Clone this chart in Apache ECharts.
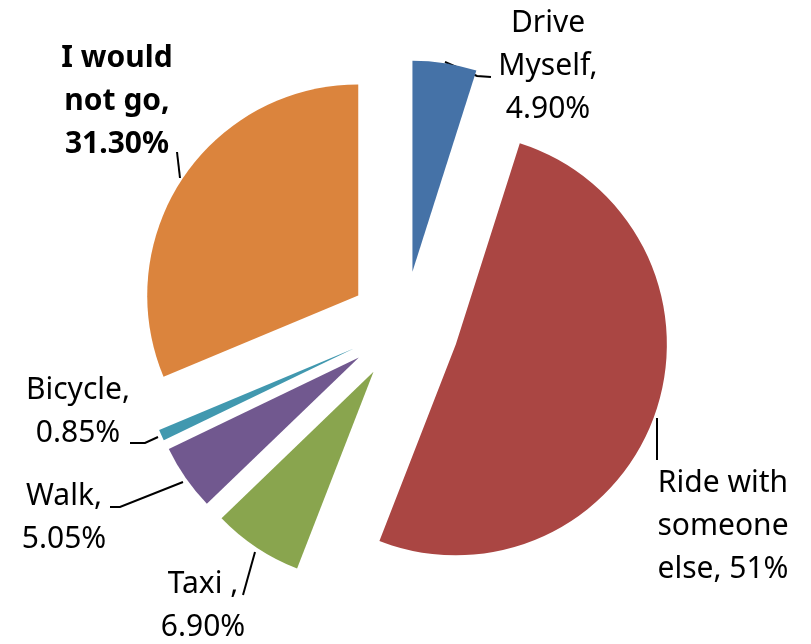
<!DOCTYPE html>
<html>
<head>
<meta charset="utf-8">
<script src="https://cdn.jsdelivr.net/npm/echarts@6/dist/echarts.min.js"></script>
<style>
  html, body { margin: 0; padding: 0; background: #fff; }
  #chart { width: 811px; height: 644px; }
</style>
</head>
<body>
<div id="chart"></div>
<script>
// data
const categories = ["Drive Myself", "Ride with someone else", "Taxi ", "Walk", "Bicycle", "I would not go"];
const values = [4.9, 51, 6.9, 5.05, 0.85, 31.3];
const valueText = ["4.90%", "51%", "6.90%", "5.05%", "0.85%", "31.30%"];
const labelNames = ["Drive\nMyself,", "Ride with\nsomeone\nelse,", "Taxi ,", "Walk,", "Bicycle,", "I would\nnot go,"];

const colors = ["#4572A7", "#AA4643", "#89A54E", "#71588F", "#4198AF", "#DB843D"];

const explode = 55;

// label placement (pixel layout)
const labelPos = [
    { x: 548, y: 66, line: [[445, 62], [477, 76], [491, 77]] },
    { x: 723, y: 526, line: [[657, 418], [657, 460]] },
    { x: 203, y: 606, line: [[255, 552], [243, 595]] },
    { x: 64, y: 518, line: [[183, 482], [120, 507], [110, 507]] },
    { x: 78, y: 412, line: [[158, 437], [145, 443], [130, 443]] },
    { x: 117, y: 101, line: [[177, 152], [180, 178]] },
];

// selected offset of each slice: labels live in the slice's shifted frame
const total = values.reduce((a, b) => a + b, 0);
let acc = 0;
const sliceShift = values.map((v) => {
    const a = ((acc + v / 2) / total) * Math.PI * 2;
    acc += v;
    return [explode * Math.sin(a), -explode * Math.cos(a)];
});

const chart = echarts.init(document.getElementById("chart"));

const seriesData = categories.map((name, i) => ({
    name: name,
    value: values[i],
    selected: true,
    itemStyle: { color: colors[i] },
    label: i === 5 ? { fontWeight: "bold" } : {},
}));

chart.setOption({
    animation: false,
    series: [
        {
            type: "pie",
            center: [404, 326],
            radius: 211,
            startAngle: 90,
            clockwise: true,
            selectedMode: "multiple",
            selectedOffset: explode,
            avoidLabelOverlap: false,
            data: seriesData,
            emphasis: { disabled: true },
            label: {
                show: true,
                fontFamily: "Noto Sans",
                fontSize: 30,
                lineHeight: 43,
                color: "#000",
                formatter: (p) => {
                    const sep = p.dataIndex === 1 ? " " : "\n";
                    return labelNames[p.dataIndex] + sep + valueText[p.dataIndex];
                },
            },
            labelLine: {
                show: true,
                lineStyle: { color: "#000", width: 2 },
            },
            labelLayout: (params) => {
                const i = params.dataIndex;
                const pos = labelPos[i];
                const r = params.labelRect;
                const s = sliceShift[i];
                // anchor x of the label as the pie placed it
                let ax = r.x + r.width / 2;
                if (params.align === "left") ax = r.x;
                else if (params.align === "right") ax = r.x + r.width;
                return {
                    align: "center",
                    dx: pos.x - ax - s[0],
                    dy: pos.y - (r.y + r.height / 2) - s[1],
                    labelLinePoints: pos.line.map((p) => [p[0] - s[0], p[1] - s[1]]),
                };
            },
        },
    ],
});
</script>
</body>
</html>
